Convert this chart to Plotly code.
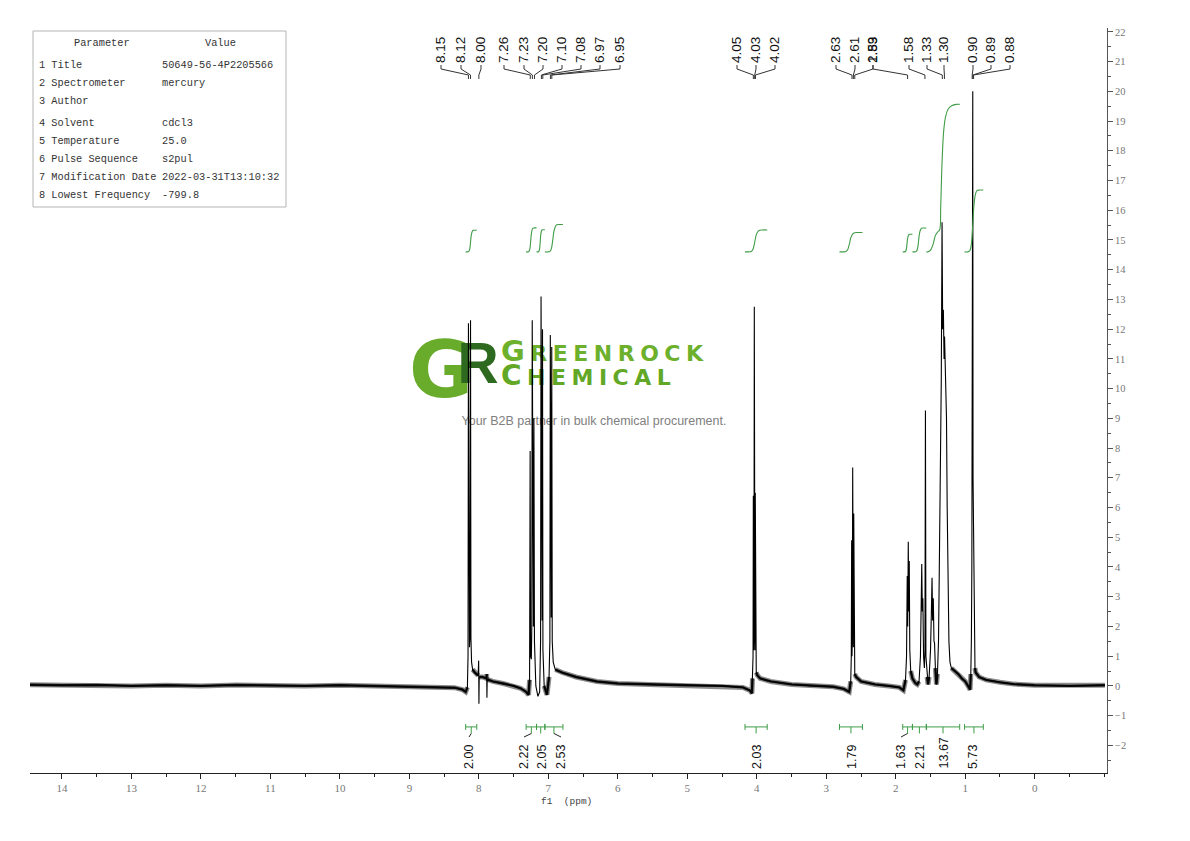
import plotly.graph_objects as go

# ---------------- data ----------------
# spectrum vertices (ppm, intensity)
spec_left = [(14.46, 0.04), (14.0, 0.02), (13.5, 0.03), (13.0, 0.0), (12.5, 0.02), (12.0, 0.0),
             (11.5, 0.03), (11.0, 0.01), (10.5, 0.0), (10.0, 0.02), (9.5, 0.0), (9.0, -0.02),
             (8.6, -0.03), (8.35, -0.06), (8.24, -0.12), (8.19, -0.2)]
spec_aromatic = [(8.165, -0.05), (8.156, 1.0), (8.150, 12.2), (8.144, 1.8), (8.135, 1.3), (8.126, 1.8),
                 (8.120, 12.3), (8.114, 1.6), (8.105, 0.8), (8.09, 0.55), (8.06, 0.45), (8.01, 0.35),
                 (8.003, 0.85), (7.999, -0.6), (7.995, 0.3), (7.95, 0.3), (7.89, 0.25), (7.887, 0.4),
                 (7.884, -0.4), (7.880, 0.22), (7.80, 0.15), (7.65, 0.08), (7.50, 0.0), (7.40, -0.08),
                 (7.32, -0.2), (7.285, -0.3), (7.270, 0.2), (7.262, 7.9), (7.256, 1.0), (7.245, 0.9),
                 (7.238, 2.0), (7.232, 12.3), (7.226, 2.5), (7.215, 2.0), (7.208, 9.0), (7.200, 1.5),
                 (7.180, 0.0), (7.150, -0.35), (7.125, -0.2), (7.112, 1.5), (7.105, 13.1), (7.098, 2.5),
                 (7.090, 2.2), (7.084, 12.0), (7.078, 1.2), (7.060, 0.0), (7.020, -0.3), (6.990, 0.3),
                 (6.978, 1.5), (6.972, 11.8), (6.965, 2.3), (6.958, 2.3), (6.951, 11.4), (6.944, 1.5),
                 (6.930, 0.8), (6.900, 0.55), (6.800, 0.45), (6.600, 0.3), (6.300, 0.15), (6.000, 0.08),
                 (5.500, 0.04), (5.000, 0.02), (4.500, 0.0), (4.200, -0.05), (4.100, -0.15), (4.070, -0.25)]
spec_och2 = [(4.062, 0.25), (4.054, 1.0), (4.050, 6.4), (4.045, 1.2), (4.041, 1.8), (4.036, 12.75),
             (4.031, 1.8), (4.027, 1.2), (4.022, 6.5), (4.017, 1.0), (4.008, 0.45), (3.99, 0.35),
             (3.95, 0.25), (3.80, 0.15), (3.50, 0.05), (3.20, 0.0), (2.90, -0.03), (2.75, -0.1), (2.67, -0.2)]
spec_ch2 = [(2.648, 0.15), (2.640, 1.0), (2.635, 4.9), (2.630, 1.0), (2.625, 1.6), (2.620, 7.35),
            (2.615, 1.6), (2.610, 1.3), (2.605, 5.8), (2.600, 1.0), (2.590, 0.4), (2.57, 0.3),
            (2.50, 0.15), (2.30, 0.05), (2.10, 0.0), (1.95, -0.05), (1.89, -0.15)]
spec_aliphatic = [(1.860, 0.2), (1.845, 1.0), (1.835, 3.7), (1.828, 2.0), (1.820, 4.85), (1.813, 2.5),
                  (1.806, 4.2), (1.798, 1.2), (1.785, 0.5), (1.760, 0.25), (1.720, 0.1), (1.690, 0.05),
                  (1.665, 0.15), (1.645, 1.0), (1.632, 2.6), (1.626, 4.1), (1.618, 2.5), (1.610, 2.95),
                  (1.600, 1.0), (1.588, 0.6), (1.580, 1.2), (1.573, 9.26), (1.566, 1.0), (1.550, 0.3),
                  (1.535, 0.05), (1.520, 0.3), (1.500, 1.2), (1.488, 2.4), (1.478, 3.64), (1.470, 2.2),
                  (1.460, 2.95), (1.450, 1.5), (1.442, 1.45), (1.430, 0.6), (1.415, 0.05), (1.400, 0.4),
                  (1.385, 1.5), (1.375, 3.6), (1.360, 6.5), (1.345, 10.3), (1.334, 15.6), (1.325, 12.0),
                  (1.315, 12.65), (1.305, 11.0), (1.298, 11.75), (1.285, 10.8), (1.270, 9.0), (1.260, 6.0),
                  (1.250, 3.6), (1.235, 1.5), (1.220, 0.8), (1.200, 0.6), (1.150, 0.5), (1.100, 0.4),
                  (1.050, 0.25), (1.000, 0.15), (0.960, 0.0), (0.930, -0.13), (0.920, 0.4), (0.912, 1.5),
                  (0.905, 4.0), (0.900, 9.0), (0.896, 7.0), (0.892, 20.0), (0.888, 7.0), (0.884, 6.0),
                  (0.878, 3.0), (0.870, 1.2), (0.860, 0.6), (0.850, 0.45), (0.800, 0.3), (0.700, 0.2)]
spec_right = [(0.5, 0.12), (0.3, 0.06), (0.0, 0.02), (-0.5, 0.0), (-1.01, 0.02)]

# peak picking labels
peak_labels = ["8.15", "8.12", "8.00", "7.26", "7.23", "7.20", "7.10", "7.08", "6.97", "6.95",
               "4.05", "4.03", "4.02", "2.63", "2.61", "2.59", "1.83", "1.58", "1.33", "1.30",
               "0.90", "0.89", "0.88"]

# integrals
int_values = [2.00, 2.22, 2.05, 2.53, 2.03, 1.79, 1.63, 2.21, 13.67, 5.73]
int_from = [8.19, 7.32, 7.17, 7.05, 4.17, 2.81, 1.90, 1.76, 1.56, 1.01]
int_to = [8.03, 7.17, 7.05, 6.79, 3.85, 2.48, 1.76, 1.56, 1.08, 0.74]

# parameter table
param_names = ["1 Title", "2 Spectrometer", "3 Author", "4 Solvent", "5 Temperature",
               "6 Pulse Sequence", "7 Modification Date", "8 Lowest Frequency"]
param_values = ["50649-56-4P2205566", "mercury", "", "cdcl3", "25.0", "s2pul",
                "2022-03-31T13:10:32", "-799.8"]

x_ticks = list(range(0, 15))
y_ticks = list(range(-2, 23))

# ---------------- layout helpers ----------------
OFF = 8                      # page body margin of the html page
W, H = 1190 - 2 * OFF, 841 - 2 * OFF
PL, PR, PT, PB = 30, 1107, 28, 773   # plot area in reference pixels
X_RANGE = [14.46, -1.04]
Y_RANGE = [-2.93, 22.13]


def xp(px):
    return (px - PL) / (PR - PL)


def yp(py):
    return 1 - (py - PT) / (PB - PT)


def ppm_at(px):
    return X_RANGE[0] + (px - PL) / (PR - PL) * (X_RANGE[1] - X_RANGE[0])


def val_at(py):
    return Y_RANGE[1] - (py - PT) / (PB - PT) * (Y_RANGE[1] - Y_RANGE[0])


spec = spec_left + spec_aromatic + spec_och2 + spec_ch2 + spec_aliphatic + spec_right
spec_ppm = [p for p, _ in spec]
spec_int = [v for _, v in spec]

fig = go.Figure()

# ---- watermark (drawn first so the spectrum lies on top) ----
GREEN_L = "#69ab2a"
GREEN_D = "#2d6a1f"
SP = "\u2005"
wm = [
    (441, 377, "G", dict(family="DejaVu Sans", size=78, color=GREEN_L, weight="bold"), "middle center"),
    (478, 369, "R", dict(family="Liberation Sans", size=57, color=GREEN_D, weight="bold"), "middle center"),
    (501, 355, "<span style='font-size:29px'>G</span>" + SP + SP.join("REENROCK"),
     dict(family="DejaVu Sans", size=22, color="#6cb02c", weight="bold"), "middle right"),
    (501, 379, "<span style='font-size:28px'>C</span>" + SP + SP.join("HEMICAL"),
     dict(family="DejaVu Sans", size=22, color="#62a826", weight="bold"), "middle right"),
    (594, 422, "Your B2B partner in bulk chemical procurement.",
     dict(family="Liberation Sans", size=12.5, color="#808080"), "middle center"),
]
for px, py, txt, fnt, pos in wm:
    fig.add_trace(go.Scatter(x=[ppm_at(px)], y=[val_at(py)], mode="text", text=[txt],
                             textposition=pos, textfont=fnt, hoverinfo="skip", showlegend=False))

# ---- baseline noise band + spectrum ----
band = [v if -0.32 <= v <= 0.62 else None for v in spec_int]
fig.add_trace(go.Scatter(x=spec_ppm, y=band, mode="lines", connectgaps=False,
                         line=dict(color="rgba(0,0,0,0.45)", width=5), hoverinfo="skip", showlegend=False))
fig.add_trace(go.Scatter(x=spec_ppm, y=band, mode="lines", connectgaps=False,
                         line=dict(color="#111", width=2.4), hoverinfo="skip", showlegend=False))
fig.add_trace(go.Scatter(x=spec_ppm, y=spec_int, mode="lines",
                         line=dict(color="black", width=1.1), hoverinfo="skip", showlegend=False))

# ---- integral curves ----
INT_COLOR = "#3f9d47"
INT_BASE = 14.6
INT_SCALE = 0.363
tpl_x = [0, 0.18, 0.28, 0.36, 0.43, 0.5, 0.58, 0.66, 0.78, 1.0]
tpl_y = [0, 0, 0.02, 0.12, 0.4, 0.75, 0.93, 0.99, 1.0, 1.0]
tpl_big_x = [0, 0.04, 0.12, 0.2, 0.27, 0.34, 0.40, 0.43, 0.47, 0.52, 0.58, 0.66, 0.76, 0.9, 1.0]
tpl_big_y = [0, 0, 0.01, 0.05, 0.11, 0.135, 0.15, 0.3, 0.6, 0.82, 0.92, 0.97, 0.99, 1.0, 1.0]
for a, b, v in zip(int_from, int_to, int_values):
    tx, ty = (tpl_big_x, tpl_big_y) if v > 10 else (tpl_x, tpl_y)
    xs = [a + f * (b - a) for f in tx]
    ys = [INT_BASE + v * INT_SCALE * f for f in ty]
    fig.add_trace(go.Scatter(x=xs, y=ys, mode="lines", line=dict(color=INT_COLOR, width=1.1, shape="spline"),
                             hoverinfo="skip", showlegend=False))

shapes = []
annotations = []

# ---- integral brackets and labels ----
int_label_px = [469, 524, 542, 561, 757, 852, 901, 920, 943, 973]
Y_BR = -1.38
for a, b, v, lpx in zip(int_from, int_to, int_values, int_label_px):
    c = (a + b) / 2
    ln = dict(color=INT_COLOR, width=1)
    shapes.append(dict(type="line", xref="x", yref="y", x0=a, x1=b, y0=Y_BR, y1=Y_BR, line=ln))
    for e in (a, b):
        shapes.append(dict(type="line", xref="x", yref="y", x0=e, x1=e, y0=Y_BR - 0.1, y1=Y_BR + 0.1, line=ln))
    lx = ppm_at(lpx)
    blk = dict(color="#222", width=1)
    shapes.append(dict(type="line", xref="x", yref="y", x0=c, x1=c, y0=Y_BR, y1=Y_BR - 0.22, line=ln))
    if abs(lx - c) > 0.02:
        shapes.append(dict(type="line", xref="x", yref="y", x0=c, x1=lx, y0=Y_BR - 0.22, y1=-1.72, line=blk))
    annotations.append(dict(x=lx, y=yp(771), xref="x", yref="paper", text=f"{v:.2f}", textangle=-90,
                            xanchor="center", yanchor="bottom", showarrow=False,
                            font=dict(family="Liberation Sans", size=12.5, color="#111")))

# ---- peak labels ----
peak_label_px = [441, 461, 481, 504, 524, 543, 562, 581, 600, 620, 737, 756, 775,
                 836, 855, 873, 873, 909, 927, 944, 973, 991, 1010]
for lab, lpx in zip(peak_labels, peak_label_px):
    lx = ppm_at(lpx)
    px_ppm = float(lab)
    blk = dict(color="#333", width=1)
    shapes.append(dict(type="line", xref="x", yref="paper", x0=lx, x1=lx, y0=yp(65), y1=yp(69), line=blk))
    shapes.append(dict(type="line", xref="x", yref="paper", x0=lx, x1=px_ppm, y0=yp(69), y1=yp(75), line=blk))
    shapes.append(dict(type="line", xref="x", yref="paper", x0=px_ppm, x1=px_ppm, y0=yp(75), y1=yp(79), line=blk))
    annotations.append(dict(x=lx, y=yp(65), xref="x", yref="paper", text=lab, textangle=-90,
                            xanchor="center", yanchor="bottom", showarrow=False,
                            font=dict(family="Liberation Sans", size=13.5, color="#111")))

# ---- parameter table ----
shapes.append(dict(type="rect", xref="paper", yref="paper", x0=xp(33), x1=xp(286), y0=yp(207), y1=yp(31),
                   line=dict(color="#b5b5b5", width=1), fillcolor="white", layer="below"))
tfont = dict(family="Liberation Mono", size=10.3, color="#333")
annotations.append(dict(x=xp(102), y=yp(43), xref="paper", yref="paper", text="Parameter",
                        xanchor="center", yanchor="middle", showarrow=False, font=tfont))
annotations.append(dict(x=xp(220), y=yp(43), xref="paper", yref="paper", text="Value",
                        xanchor="center", yanchor="middle", showarrow=False, font=tfont))
row_px = [65, 83, 101, 123, 141, 159, 177, 195]
for n, val, ry in zip(param_names, param_values, row_px):
    annotations.append(dict(x=xp(37), y=yp(ry), xref="paper", yref="paper", text=n,
                            xanchor="left", yanchor="middle", showarrow=False, font=tfont))
    if val:
        annotations.append(dict(x=xp(160), y=yp(ry), xref="paper", yref="paper", text=val,
                                xanchor="left", yanchor="middle", showarrow=False, font=tfont))

# ---- x axis title ----
annotations.append(dict(x=xp(566), y=yp(801), xref="paper", yref="paper", text="f1  (ppm)",
                        xanchor="center", yanchor="middle", showarrow=False,
                        font=dict(family="Liberation Mono", size=9.5, color="#444")))

fig.update_layout(
    width=W, height=H, autosize=False,
    margin=dict(l=PL - OFF, r=W - (PR - OFF), t=PT - OFF, b=H - (PB - OFF), pad=0),
    paper_bgcolor="white", plot_bgcolor="white",
    showlegend=False, shapes=shapes, annotations=annotations,
    xaxis=dict(range=X_RANGE, tickvals=x_ticks, ticktext=[str(t) for t in x_ticks],
               ticks="outside", ticklen=5, tickcolor="#222", showline=True, linecolor="#222", linewidth=1,
               showgrid=False, zeroline=False,
               minor=dict(dtick=0.5, ticks="outside", ticklen=3, tickcolor="#222"),
               tickfont=dict(family="Liberation Serif", size=11, color="#777")),
    yaxis=dict(range=Y_RANGE, side="right", tickvals=y_ticks, ticks="outside", ticklen=5,
               tickcolor="#555", showline=True, linecolor="#555", linewidth=1,
               showgrid=False, zeroline=False,
               minor=dict(dtick=0.5, ticks="outside", ticklen=3, tickcolor="#555"),
               tickfont=dict(family="Liberation Serif", size=10.5, color="#777")),
)

fig.write_html("out.html", config={"displayModeBar": False})
